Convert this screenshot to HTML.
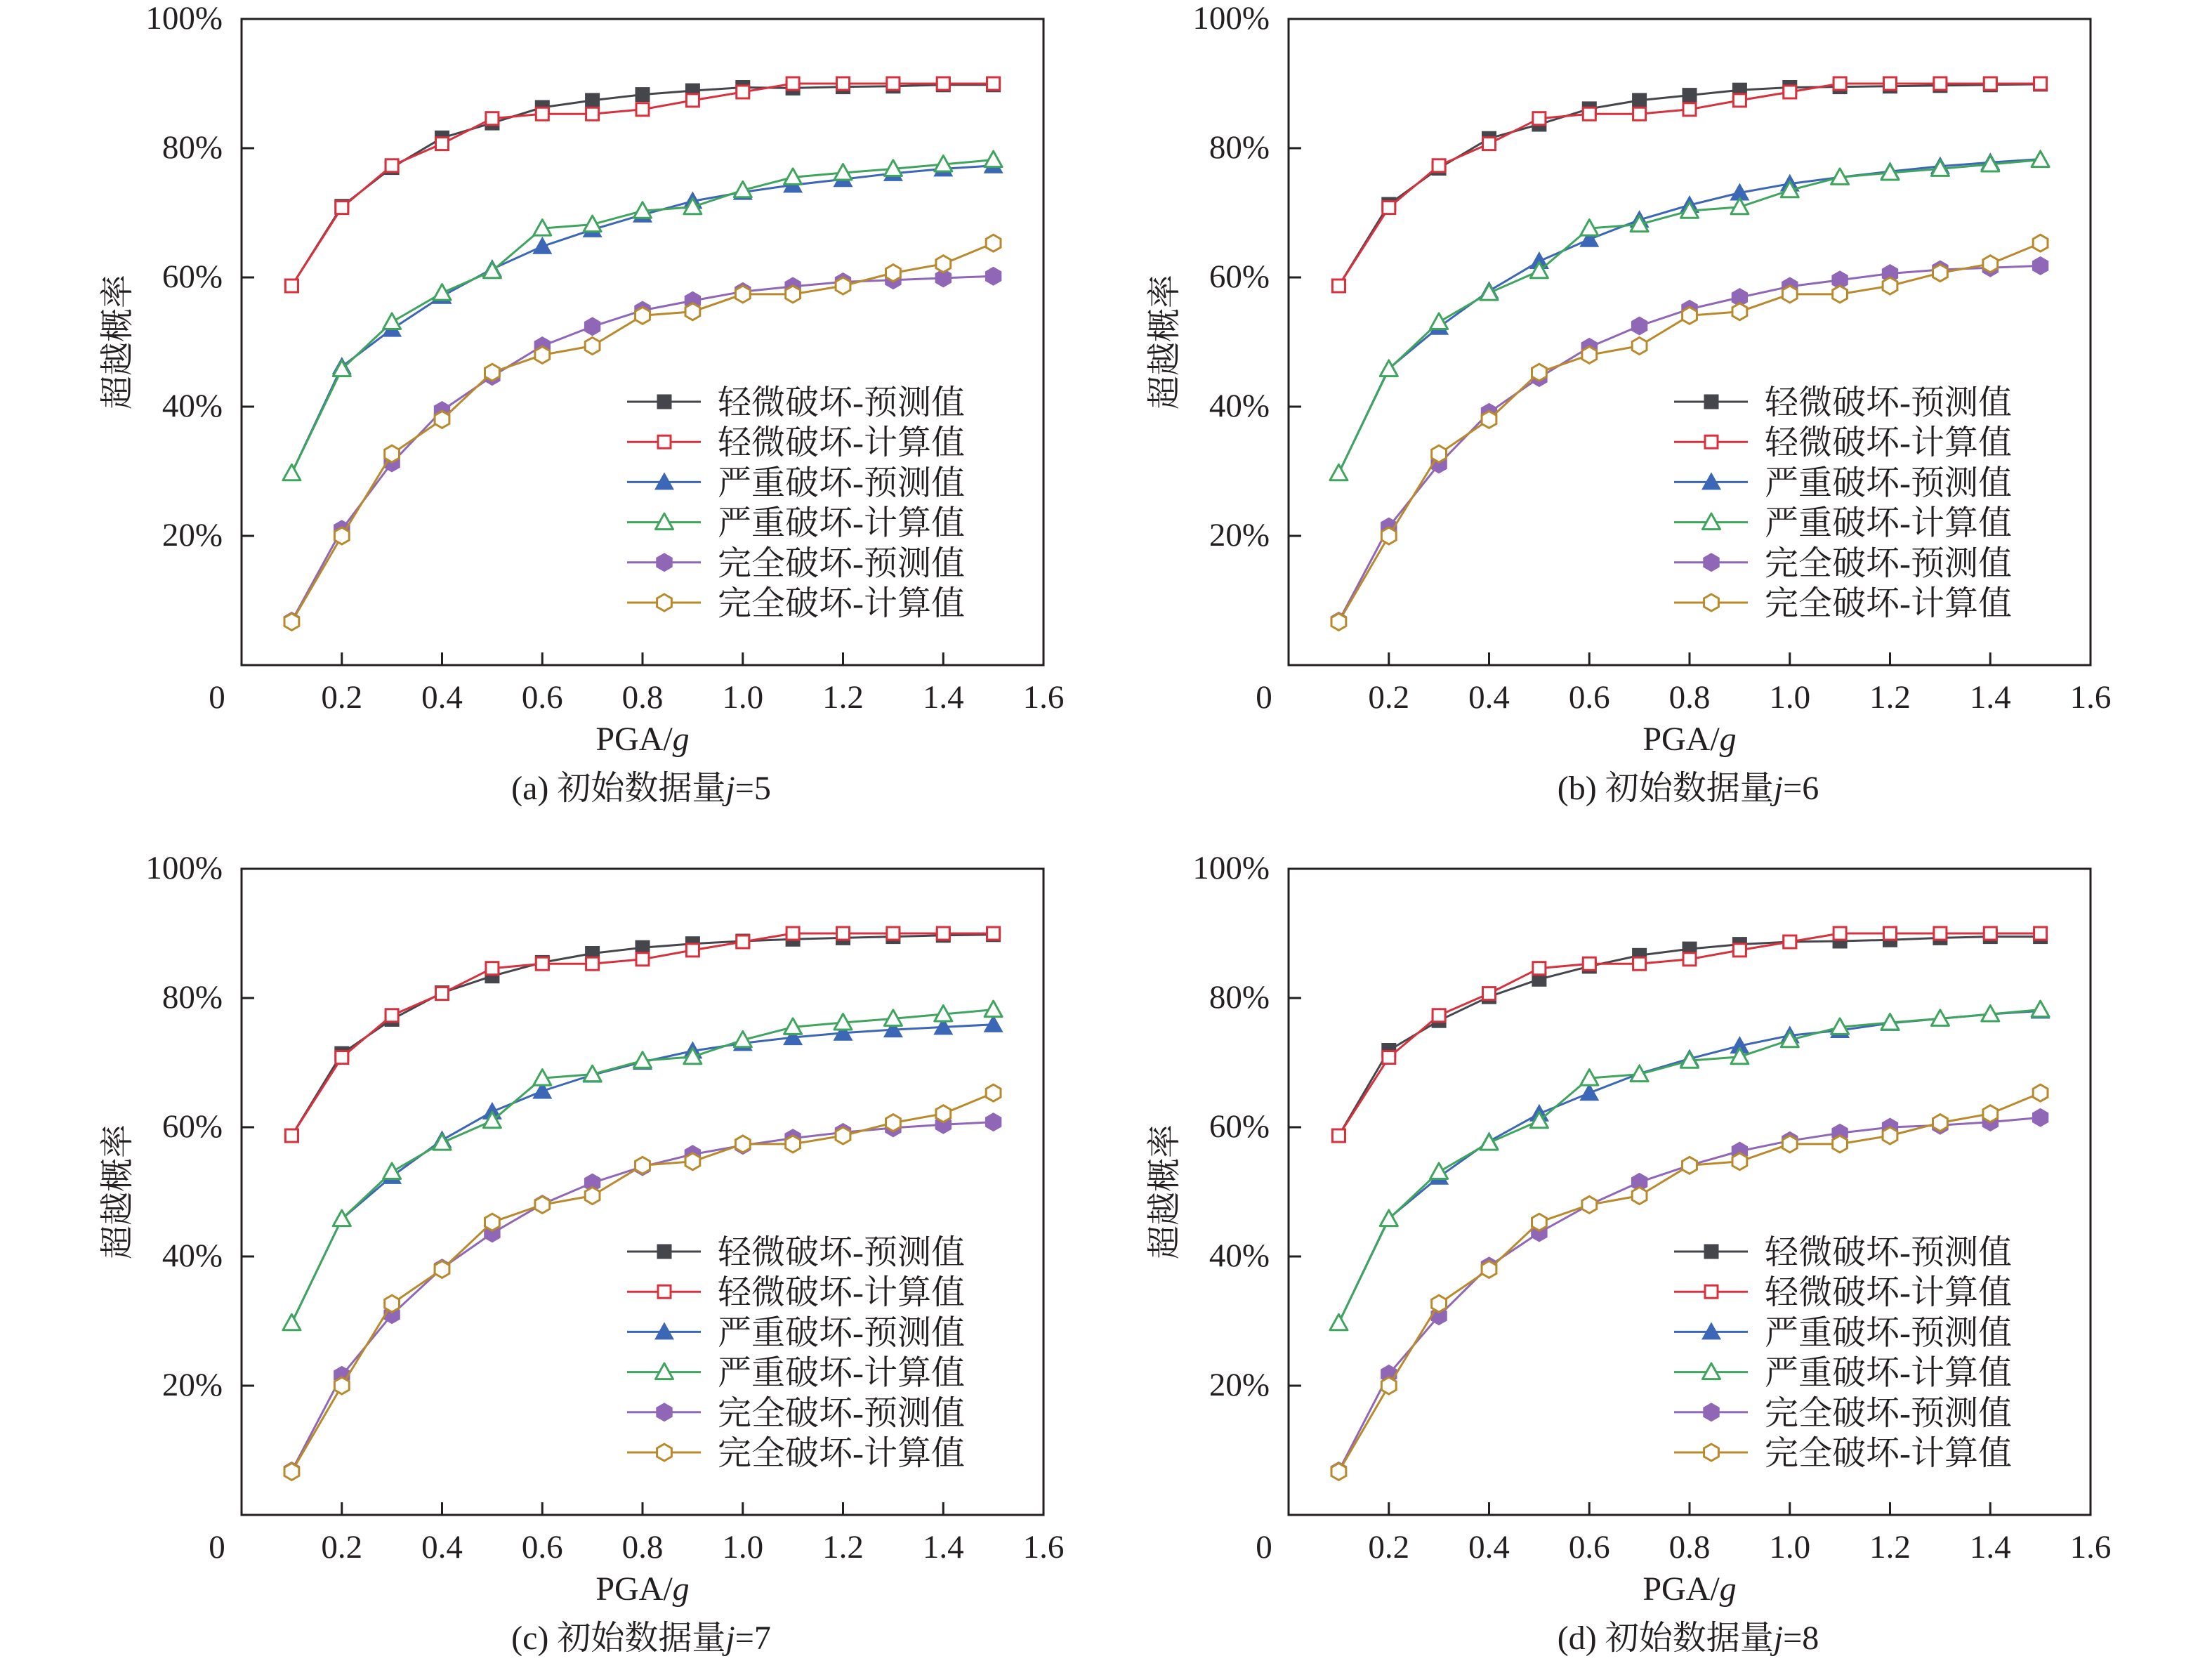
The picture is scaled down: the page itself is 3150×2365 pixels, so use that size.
<!DOCTYPE html>
<html><head><meta charset="utf-8">
<style>
html,body{margin:0;padding:0;background:#fff;}
svg{display:block;}
text{fill:#231f20;}
.tk{font-family:"Liberation Serif",serif;font-size:47px;}
.cj{font-family:"Liberation Serif","Noto Serif CJK SC",serif;font-size:48px;}
.ln{fill:none;stroke-width:3;stroke-linejoin:round;}
</style></head>
<body>
<svg width="3150" height="2365" viewBox="0 0 3150 2365" xmlns="http://www.w3.org/2000/svg" xmlns:xlink="http://www.w3.org/1999/xlink">
<rect width="3150" height="2365" fill="#fff"/>
<defs>
<rect id="sqf" x="-10.5" y="-10.5" width="21" height="21" fill="#45464c"/>
<rect id="sqo" x="-9" y="-9" width="18" height="18" fill="#fff" stroke="#d7313e" stroke-width="3"/>
<polygon id="trf" points="0,-14 14,11 -14,11" fill="#3c66b6"/>
<polygon id="tro" points="0,-12.5 12.5,10 -12.5,10" fill="#fff" stroke="#3fa55e" stroke-width="3" stroke-linejoin="round"/>
<polygon id="hxf" points="0,-13.5 11.7,-6.75 11.7,6.75 0,13.5 -11.7,6.75 -11.7,-6.75" fill="#9067b7"/>
<polygon id="hxo" points="0,-12 10.4,-6 10.4,6 0,12 -10.4,6 -10.4,-6" fill="#fff" stroke="#b98a2c" stroke-width="3"/>
<marker id="m1" markerUnits="userSpaceOnUse" markerWidth="40" markerHeight="40" viewBox="-20 -20 40 40" refX="0" refY="0" orient="0" overflow="visible"><use href="#sqf" xlink:href="#sqf"/></marker>
<marker id="m2" markerUnits="userSpaceOnUse" markerWidth="40" markerHeight="40" viewBox="-20 -20 40 40" refX="0" refY="0" orient="0" overflow="visible"><use href="#sqo" xlink:href="#sqo"/></marker>
<marker id="m3" markerUnits="userSpaceOnUse" markerWidth="40" markerHeight="40" viewBox="-20 -20 40 40" refX="0" refY="0" orient="0" overflow="visible"><use href="#trf" xlink:href="#trf"/></marker>
<marker id="m4" markerUnits="userSpaceOnUse" markerWidth="40" markerHeight="40" viewBox="-20 -20 40 40" refX="0" refY="0" orient="0" overflow="visible"><use href="#tro" xlink:href="#tro"/></marker>
<marker id="m5" markerUnits="userSpaceOnUse" markerWidth="40" markerHeight="40" viewBox="-20 -20 40 40" refX="0" refY="0" orient="0" overflow="visible"><use href="#hxf" xlink:href="#hxf"/></marker>
<marker id="m6" markerUnits="userSpaceOnUse" markerWidth="40" markerHeight="40" viewBox="-20 -20 40 40" refX="0" refY="0" orient="0" overflow="visible"><use href="#hxo" xlink:href="#hxo"/></marker>

<polyline id="red" class="ln" stroke="#d7313e" marker-start="url(#m2)" marker-mid="url(#m2)" marker-end="url(#m2)" points="71.4,380 142.8,268.6 214.1,208.8 285.5,177.6 356.9,141.7 428.3,135.2 499.6,135.2 571,128.8 642.4,115.9 713.8,104 785.1,92 856.5,92 927.9,92 999.3,92 1070.6,92"/>
<polyline id="green" class="ln" stroke="#3fa55e" marker-start="url(#m4)" marker-mid="url(#m4)" marker-end="url(#m4)" points="71.4,646.8 142.8,498.6 214.1,431.5 285.5,390.1 356.9,358.8 428.3,298.1 499.6,292.6 571,273.2 642.4,267.7 713.8,243.8 785.1,225.4 856.5,219 927.9,213.4 999.3,207 1070.6,200.6"/>
<polyline id="gold" class="ln" stroke="#b98a2c" marker-start="url(#m6)" marker-mid="url(#m6)" marker-end="url(#m6)" points="71.4,858.4 142.8,736 214.1,619.2 285.5,570.4 356.9,503.2 428.3,478.4 499.6,465.5 571,422.3 642.4,416.8 713.8,391.9 785.1,391.9 856.5,380 927.9,361.6 999.3,348.7 1070.6,319.2"/>
</defs>

<!-- ================= PANEL A ================= -->
<g transform="translate(344,27)">
<rect x="0" y="0" width="1142" height="920" fill="none" stroke="#231f20" stroke-width="3"/>
<g stroke="#231f20" stroke-width="3">
<line x1="142.75" y1="920" x2="142.75" y2="902"/><line x1="285.5" y1="920" x2="285.5" y2="902"/><line x1="428.25" y1="920" x2="428.25" y2="902"/><line x1="571" y1="920" x2="571" y2="902"/><line x1="713.75" y1="920" x2="713.75" y2="902"/><line x1="856.5" y1="920" x2="856.5" y2="902"/><line x1="999.25" y1="920" x2="999.25" y2="902"/>
<line x1="0" y1="184" x2="18" y2="184"/><line x1="0" y1="368" x2="18" y2="368"/><line x1="0" y1="552" x2="18" y2="552"/><line x1="0" y1="736" x2="18" y2="736"/>
</g>
<g class="tk" text-anchor="middle">
<text x="-35" y="981">0</text><text x="142.75" y="981">0.2</text><text x="285.5" y="981">0.4</text><text x="428.25" y="981">0.6</text><text x="571" y="981">0.8</text><text x="713.75" y="981">1.0</text><text x="856.5" y="981">1.2</text><text x="999.25" y="981">1.4</text><text x="1142" y="981">1.6</text>
</g>
<g class="tk" text-anchor="end">
<text x="-27" y="14">100%</text><text x="-27" y="198">80%</text><text x="-27" y="382">60%</text><text x="-27" y="566">40%</text><text x="-27" y="750">20%</text>
</g>
<text class="cj" x="-161" y="460" text-anchor="middle" transform="rotate(-90,-161,460)">超越概率</text>
<text class="tk" x="571" y="1041" text-anchor="middle" style="font-size:48px">PGA/<tspan font-style="italic">g</tspan></text>
<text class="cj" x="569" y="1111" text-anchor="middle">(a) 初始数据量<tspan font-style="italic">j</tspan>=5</text>

<polyline class="ln" stroke="#45464c" marker-start="url(#m1)" marker-mid="url(#m1)" marker-end="url(#m1)" points="71.4,380 142.8,266.8 214.1,211.6 285.5,169.3 356.9,148.1 428.3,126 499.6,115.9 571,107.6 642.4,102.1 713.8,97.5 785.1,98.4 856.5,96.6 927.9,95.7 999.3,93.8 1070.6,93.8"/>
<use href="#red" xlink:href="#red"/>
<polyline class="ln" stroke="#3c66b6" marker-start="url(#m3)" marker-mid="url(#m3)" marker-end="url(#m3)" points="71.4,646.8 142.8,495 214.1,441.6 285.5,394.7 356.9,356 428.3,323.8 499.6,299.9 571,278.8 642.4,259.4 713.8,246.6 785.1,236.4 856.5,228.2 927.9,219.9 999.3,213.4 1070.6,208.8"/>
<use href="#green" xlink:href="#green"/>
<polyline class="ln" stroke="#9067b7" marker-start="url(#m5)" marker-mid="url(#m5)" marker-end="url(#m5)" points="71.4,857.4 142.8,726.8 214.1,632 285.5,557.5 356.9,508.8 428.3,465.5 499.6,437.9 571,414.9 642.4,401.1 713.8,388.2 785.1,380.9 856.5,374.4 927.9,371.7 999.3,368.9 1070.6,366.2"/>
<use href="#gold" xlink:href="#gold"/>

<g class="cj">
<line x1="549" y1="545" x2="654" y2="545" stroke="#45464c" stroke-width="3"/><use href="#sqf" xlink:href="#sqf" x="602" y="545"/><text x="678" y="562">轻微破坏-预测值</text>
<line x1="549" y1="602.2" x2="654" y2="602.2" stroke="#d7313e" stroke-width="3"/><use href="#sqo" xlink:href="#sqo" x="602" y="602.2"/><text x="678" y="619.2">轻微破坏-计算值</text>
<line x1="549" y1="659.4" x2="654" y2="659.4" stroke="#3c66b6" stroke-width="3"/><use href="#trf" xlink:href="#trf" x="602" y="659.4"/><text x="678" y="676.4">严重破坏-预测值</text>
<line x1="549" y1="716.6" x2="654" y2="716.6" stroke="#3fa55e" stroke-width="3"/><use href="#tro" xlink:href="#tro" x="602" y="716.6"/><text x="678" y="733.6">严重破坏-计算值</text>
<line x1="549" y1="773.8" x2="654" y2="773.8" stroke="#9067b7" stroke-width="3"/><use href="#hxf" xlink:href="#hxf" x="602" y="773.8"/><text x="678" y="790.8">完全破坏-预测值</text>
<line x1="549" y1="831" x2="654" y2="831" stroke="#b98a2c" stroke-width="3"/><use href="#hxo" xlink:href="#hxo" x="602" y="831"/><text x="678" y="848">完全破坏-计算值</text>
</g>
</g>

<!-- ================= PANEL B ================= -->
<g transform="translate(1835,27)">
<rect x="0" y="0" width="1142" height="920" fill="none" stroke="#231f20" stroke-width="3"/>
<g stroke="#231f20" stroke-width="3">
<line x1="142.75" y1="920" x2="142.75" y2="902"/><line x1="285.5" y1="920" x2="285.5" y2="902"/><line x1="428.25" y1="920" x2="428.25" y2="902"/><line x1="571" y1="920" x2="571" y2="902"/><line x1="713.75" y1="920" x2="713.75" y2="902"/><line x1="856.5" y1="920" x2="856.5" y2="902"/><line x1="999.25" y1="920" x2="999.25" y2="902"/>
<line x1="0" y1="184" x2="18" y2="184"/><line x1="0" y1="368" x2="18" y2="368"/><line x1="0" y1="552" x2="18" y2="552"/><line x1="0" y1="736" x2="18" y2="736"/>
</g>
<g class="tk" text-anchor="middle">
<text x="-35" y="981">0</text><text x="142.75" y="981">0.2</text><text x="285.5" y="981">0.4</text><text x="428.25" y="981">0.6</text><text x="571" y="981">0.8</text><text x="713.75" y="981">1.0</text><text x="856.5" y="981">1.2</text><text x="999.25" y="981">1.4</text><text x="1142" y="981">1.6</text>
</g>
<g class="tk" text-anchor="end">
<text x="-27" y="14">100%</text><text x="-27" y="198">80%</text><text x="-27" y="382">60%</text><text x="-27" y="566">40%</text><text x="-27" y="750">20%</text>
</g>
<text class="cj" x="-161" y="460" text-anchor="middle" transform="rotate(-90,-161,460)">超越概率</text>
<text class="tk" x="571" y="1041" text-anchor="middle" style="font-size:48px">PGA/<tspan font-style="italic">g</tspan></text>
<text class="cj" x="569" y="1111" text-anchor="middle">(b) 初始数据量<tspan font-style="italic">j</tspan>=6</text>

<polyline class="ln" stroke="#45464c" marker-start="url(#m1)" marker-mid="url(#m1)" marker-end="url(#m1)" points="71.4,380 142.8,264 214.1,212.5 285.5,170.2 356.9,150 428.3,127.9 499.6,115.9 571,108.6 642.4,101.2 713.8,97.5 785.1,96.6 856.5,95.7 927.9,94.8 999.3,93.8 1070.6,92.9"/>
<use href="#red" xlink:href="#red"/>
<polyline class="ln" stroke="#3c66b6" marker-start="url(#m3)" marker-mid="url(#m3)" marker-end="url(#m3)" points="71.4,646.8 142.8,497.7 214.1,438.8 285.5,387.3 356.9,345 428.3,313.7 499.6,286.1 571,265 642.4,247.5 713.8,234.6 785.1,225.4 856.5,217.1 927.9,209.8 999.3,204.2 1070.6,199.6"/>
<use href="#green" xlink:href="#green"/>
<polyline class="ln" stroke="#9067b7" marker-start="url(#m5)" marker-mid="url(#m5)" marker-end="url(#m5)" points="71.4,857.4 142.8,723.1 214.1,633.9 285.5,560.3 356.9,510.6 428.3,467.4 499.6,437 571,413.1 642.4,396.5 713.8,380.9 785.1,371.7 856.5,362.5 927.9,357 999.3,354.2 1070.6,351.4"/>
<use href="#gold" xlink:href="#gold"/>

<g class="cj">
<line x1="549" y1="545" x2="654" y2="545" stroke="#45464c" stroke-width="3"/><use href="#sqf" xlink:href="#sqf" x="602" y="545"/><text x="678" y="562">轻微破坏-预测值</text>
<line x1="549" y1="602.2" x2="654" y2="602.2" stroke="#d7313e" stroke-width="3"/><use href="#sqo" xlink:href="#sqo" x="602" y="602.2"/><text x="678" y="619.2">轻微破坏-计算值</text>
<line x1="549" y1="659.4" x2="654" y2="659.4" stroke="#3c66b6" stroke-width="3"/><use href="#trf" xlink:href="#trf" x="602" y="659.4"/><text x="678" y="676.4">严重破坏-预测值</text>
<line x1="549" y1="716.6" x2="654" y2="716.6" stroke="#3fa55e" stroke-width="3"/><use href="#tro" xlink:href="#tro" x="602" y="716.6"/><text x="678" y="733.6">严重破坏-计算值</text>
<line x1="549" y1="773.8" x2="654" y2="773.8" stroke="#9067b7" stroke-width="3"/><use href="#hxf" xlink:href="#hxf" x="602" y="773.8"/><text x="678" y="790.8">完全破坏-预测值</text>
<line x1="549" y1="831" x2="654" y2="831" stroke="#b98a2c" stroke-width="3"/><use href="#hxo" xlink:href="#hxo" x="602" y="831"/><text x="678" y="848">完全破坏-计算值</text>
</g>
</g>

<!-- ================= PANEL C ================= -->
<g transform="translate(344,1237)">
<rect x="0" y="0" width="1142" height="920" fill="none" stroke="#231f20" stroke-width="3"/>
<g stroke="#231f20" stroke-width="3">
<line x1="142.75" y1="920" x2="142.75" y2="902"/><line x1="285.5" y1="920" x2="285.5" y2="902"/><line x1="428.25" y1="920" x2="428.25" y2="902"/><line x1="571" y1="920" x2="571" y2="902"/><line x1="713.75" y1="920" x2="713.75" y2="902"/><line x1="856.5" y1="920" x2="856.5" y2="902"/><line x1="999.25" y1="920" x2="999.25" y2="902"/>
<line x1="0" y1="184" x2="18" y2="184"/><line x1="0" y1="368" x2="18" y2="368"/><line x1="0" y1="552" x2="18" y2="552"/><line x1="0" y1="736" x2="18" y2="736"/>
</g>
<g class="tk" text-anchor="middle">
<text x="-35" y="981">0</text><text x="142.75" y="981">0.2</text><text x="285.5" y="981">0.4</text><text x="428.25" y="981">0.6</text><text x="571" y="981">0.8</text><text x="713.75" y="981">1.0</text><text x="856.5" y="981">1.2</text><text x="999.25" y="981">1.4</text><text x="1142" y="981">1.6</text>
</g>
<g class="tk" text-anchor="end">
<text x="-27" y="14">100%</text><text x="-27" y="198">80%</text><text x="-27" y="382">60%</text><text x="-27" y="566">40%</text><text x="-27" y="750">20%</text>
</g>
<text class="cj" x="-161" y="460" text-anchor="middle" transform="rotate(-90,-161,460)">超越概率</text>
<text class="tk" x="571" y="1041" text-anchor="middle" style="font-size:48px">PGA/<tspan font-style="italic">g</tspan></text>
<text class="cj" x="569" y="1111" text-anchor="middle">(c) 初始数据量<tspan font-style="italic">j</tspan>=7</text>

<polyline class="ln" stroke="#45464c" marker-start="url(#m1)" marker-mid="url(#m1)" marker-end="url(#m1)" points="71.4,380 142.8,263.1 214.1,214.4 285.5,176.6 356.9,152.7 428.3,133.4 499.6,120.5 571,112.2 642.4,106.7 713.8,103 785.1,100.3 856.5,98.4 927.9,96.6 999.3,94.8 1070.6,93.8"/>
<use href="#red" xlink:href="#red"/>
<polyline class="ln" stroke="#3c66b6" marker-start="url(#m3)" marker-mid="url(#m3)" marker-end="url(#m3)" points="71.4,646.8 142.8,498.6 214.1,437.9 285.5,386.4 356.9,345.9 428.3,316.5 499.6,293.5 571,275.1 642.4,259.4 713.8,248.4 785.1,240.1 856.5,233.7 927.9,229.1 999.3,225.4 1070.6,221.7"/>
<use href="#green" xlink:href="#green"/>
<polyline class="ln" stroke="#9067b7" marker-start="url(#m5)" marker-mid="url(#m5)" marker-end="url(#m5)" points="71.4,857.4 142.8,721.3 214.1,634.8 285.5,568.6 356.9,518.9 428.3,477.5 499.6,447.1 571,424.1 642.4,406.6 713.8,393.8 785.1,383.6 856.5,375.4 927.9,368.9 999.3,364.3 1070.6,360.6"/>
<use href="#gold" xlink:href="#gold"/>

<g class="cj">
<line x1="549" y1="545" x2="654" y2="545" stroke="#45464c" stroke-width="3"/><use href="#sqf" xlink:href="#sqf" x="602" y="545"/><text x="678" y="562">轻微破坏-预测值</text>
<line x1="549" y1="602.2" x2="654" y2="602.2" stroke="#d7313e" stroke-width="3"/><use href="#sqo" xlink:href="#sqo" x="602" y="602.2"/><text x="678" y="619.2">轻微破坏-计算值</text>
<line x1="549" y1="659.4" x2="654" y2="659.4" stroke="#3c66b6" stroke-width="3"/><use href="#trf" xlink:href="#trf" x="602" y="659.4"/><text x="678" y="676.4">严重破坏-预测值</text>
<line x1="549" y1="716.6" x2="654" y2="716.6" stroke="#3fa55e" stroke-width="3"/><use href="#tro" xlink:href="#tro" x="602" y="716.6"/><text x="678" y="733.6">严重破坏-计算值</text>
<line x1="549" y1="773.8" x2="654" y2="773.8" stroke="#9067b7" stroke-width="3"/><use href="#hxf" xlink:href="#hxf" x="602" y="773.8"/><text x="678" y="790.8">完全破坏-预测值</text>
<line x1="549" y1="831" x2="654" y2="831" stroke="#b98a2c" stroke-width="3"/><use href="#hxo" xlink:href="#hxo" x="602" y="831"/><text x="678" y="848">完全破坏-计算值</text>
</g>
</g>

<!-- ================= PANEL D ================= -->
<g transform="translate(1835,1237)">
<rect x="0" y="0" width="1142" height="920" fill="none" stroke="#231f20" stroke-width="3"/>
<g stroke="#231f20" stroke-width="3">
<line x1="142.75" y1="920" x2="142.75" y2="902"/><line x1="285.5" y1="920" x2="285.5" y2="902"/><line x1="428.25" y1="920" x2="428.25" y2="902"/><line x1="571" y1="920" x2="571" y2="902"/><line x1="713.75" y1="920" x2="713.75" y2="902"/><line x1="856.5" y1="920" x2="856.5" y2="902"/><line x1="999.25" y1="920" x2="999.25" y2="902"/>
<line x1="0" y1="184" x2="18" y2="184"/><line x1="0" y1="368" x2="18" y2="368"/><line x1="0" y1="552" x2="18" y2="552"/><line x1="0" y1="736" x2="18" y2="736"/>
</g>
<g class="tk" text-anchor="middle">
<text x="-35" y="981">0</text><text x="142.75" y="981">0.2</text><text x="285.5" y="981">0.4</text><text x="428.25" y="981">0.6</text><text x="571" y="981">0.8</text><text x="713.75" y="981">1.0</text><text x="856.5" y="981">1.2</text><text x="999.25" y="981">1.4</text><text x="1142" y="981">1.6</text>
</g>
<g class="tk" text-anchor="end">
<text x="-27" y="14">100%</text><text x="-27" y="198">80%</text><text x="-27" y="382">60%</text><text x="-27" y="566">40%</text><text x="-27" y="750">20%</text>
</g>
<text class="cj" x="-161" y="460" text-anchor="middle" transform="rotate(-90,-161,460)">超越概率</text>
<text class="tk" x="571" y="1041" text-anchor="middle" style="font-size:48px">PGA/<tspan font-style="italic">g</tspan></text>
<text class="cj" x="569" y="1111" text-anchor="middle">(d) 初始数据量<tspan font-style="italic">j</tspan>=8</text>

<polyline class="ln" stroke="#45464c" marker-start="url(#m1)" marker-mid="url(#m1)" marker-end="url(#m1)" points="71.4,380 142.8,258.5 214.1,216.2 285.5,182.2 356.9,157.3 428.3,138.9 499.6,123.3 571,114.1 642.4,107.6 713.8,104 785.1,103 856.5,101.2 927.9,98.4 999.3,96.6 1070.6,96.6"/>
<use href="#red" xlink:href="#red"/>
<polyline class="ln" stroke="#3c66b6" marker-start="url(#m3)" marker-mid="url(#m3)" marker-end="url(#m3)" points="71.4,646.8 142.8,497.7 214.1,438.8 285.5,388.2 356.9,348.7 428.3,319.2 499.6,291.6 571,270.5 642.4,252.1 713.8,237.4 785.1,230 856.5,219.9 927.9,213.4 999.3,207 1070.6,202.4"/>
<use href="#green" xlink:href="#green"/>
<polyline class="ln" stroke="#9067b7" marker-start="url(#m5)" marker-mid="url(#m5)" marker-end="url(#m5)" points="71.4,857.4 142.8,719.4 214.1,636.6 285.5,565.8 356.9,518 428.3,478.4 499.6,446.2 571,422.3 642.4,402 713.8,387.3 785.1,376.3 856.5,368 927.9,365.2 999.3,360.6 1070.6,354.2"/>
<use href="#gold" xlink:href="#gold"/>

<g class="cj">
<line x1="549" y1="545" x2="654" y2="545" stroke="#45464c" stroke-width="3"/><use href="#sqf" xlink:href="#sqf" x="602" y="545"/><text x="678" y="562">轻微破坏-预测值</text>
<line x1="549" y1="602.2" x2="654" y2="602.2" stroke="#d7313e" stroke-width="3"/><use href="#sqo" xlink:href="#sqo" x="602" y="602.2"/><text x="678" y="619.2">轻微破坏-计算值</text>
<line x1="549" y1="659.4" x2="654" y2="659.4" stroke="#3c66b6" stroke-width="3"/><use href="#trf" xlink:href="#trf" x="602" y="659.4"/><text x="678" y="676.4">严重破坏-预测值</text>
<line x1="549" y1="716.6" x2="654" y2="716.6" stroke="#3fa55e" stroke-width="3"/><use href="#tro" xlink:href="#tro" x="602" y="716.6"/><text x="678" y="733.6">严重破坏-计算值</text>
<line x1="549" y1="773.8" x2="654" y2="773.8" stroke="#9067b7" stroke-width="3"/><use href="#hxf" xlink:href="#hxf" x="602" y="773.8"/><text x="678" y="790.8">完全破坏-预测值</text>
<line x1="549" y1="831" x2="654" y2="831" stroke="#b98a2c" stroke-width="3"/><use href="#hxo" xlink:href="#hxo" x="602" y="831"/><text x="678" y="848">完全破坏-计算值</text>
</g>
</g>
</svg>
</body></html>
